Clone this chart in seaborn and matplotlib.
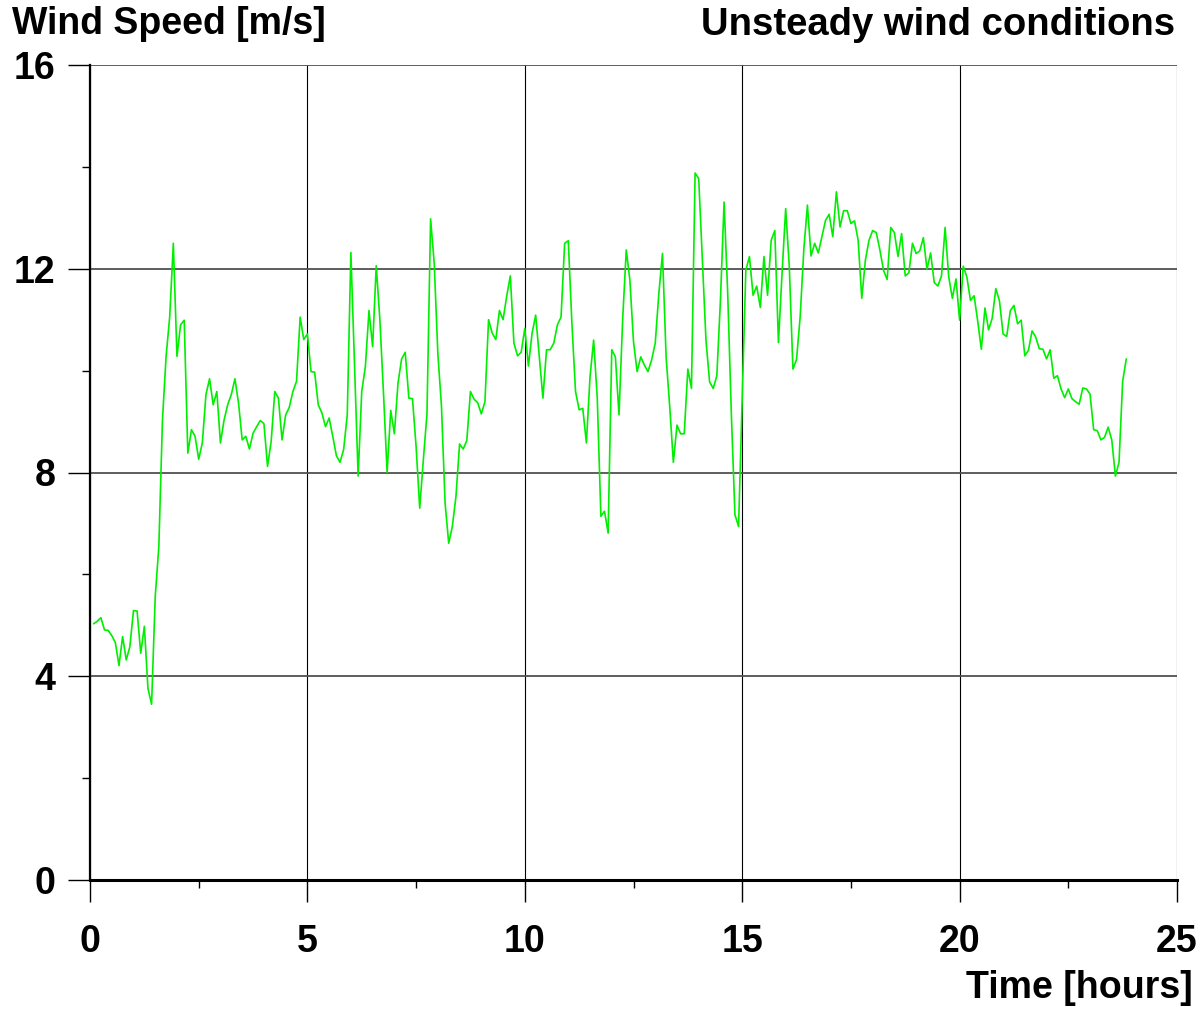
import matplotlib
matplotlib.use("Agg")
import matplotlib.pyplot as plt
import seaborn as sns
import pandas as pd
import numpy as np

# Data: wind speed sampled every 5 minutes
sample_minutes = 5
wind_speed = [
    5.03, 5.08, 5.15, 4.91, 4.90, 4.80, 4.66, 4.21, 4.78, 4.32,
    4.58, 5.29, 5.28, 4.45, 4.98, 3.76, 3.45, 5.56, 6.55, 9.03,
    10.28, 11.06, 12.50, 10.28, 10.90, 10.99, 8.38, 8.84, 8.71, 8.26,
    8.58, 9.53, 9.84, 9.33, 9.59, 8.58, 9.03, 9.33, 9.53, 9.84,
    9.36, 8.64, 8.71, 8.46, 8.77, 8.90, 9.02, 8.96, 8.12, 8.61,
    9.59, 9.46, 8.64, 9.13, 9.28, 9.59, 9.79, 11.05, 10.61, 10.72,
    9.98, 9.97, 9.33, 9.17, 8.90, 9.07, 8.71, 8.33, 8.20, 8.45,
    9.13, 12.32, 10.15, 7.93, 9.59, 10.08, 11.18, 10.47, 12.06, 11.00,
    9.56, 8.00, 9.22, 8.76, 9.75, 10.23, 10.36, 9.46, 9.45, 8.51,
    7.30, 8.25, 9.15, 12.98, 12.11, 10.34, 9.30, 7.40, 6.61, 6.94,
    7.53, 8.56, 8.46, 8.63, 9.59, 9.44, 9.37, 9.15, 9.39, 11.00,
    10.74, 10.61, 11.18, 11.00, 11.46, 11.86, 10.54, 10.29, 10.36, 10.83,
    10.09, 10.73, 11.09, 10.27, 9.46, 10.41, 10.41, 10.54, 10.90, 11.05,
    12.50, 12.55, 10.93, 9.59, 9.23, 9.26, 8.58, 9.88, 10.60, 9.46,
    7.14, 7.24, 6.81, 10.41, 10.27, 9.13, 10.99, 12.37, 11.78, 10.57,
    9.98, 10.27, 10.11, 9.98, 10.21, 10.54, 11.52, 12.30, 10.27, 9.29,
    8.20, 8.93, 8.76, 8.76, 10.03, 9.65, 13.88, 13.77, 12.17, 10.60,
    9.78, 9.65, 9.90, 11.39, 13.31, 11.52, 9.16, 7.17, 6.94, 9.46,
    11.97, 12.24, 11.48, 11.66, 11.24, 12.24, 11.48, 12.56, 12.75, 10.55,
    11.91, 13.18, 12.04, 10.03, 10.22, 11.06, 12.37, 13.25, 12.25, 12.50,
    12.31, 12.63, 12.95, 13.07, 12.63, 13.51, 12.82, 13.14, 13.14, 12.89,
    12.94, 12.56, 11.42, 12.17, 12.56, 12.75, 12.71, 12.37, 11.97, 11.79,
    12.81, 12.71, 12.24, 12.69, 11.86, 11.92, 12.50, 12.30, 12.35, 12.61,
    11.99, 12.31, 11.73, 11.66, 11.86, 12.81, 11.84, 11.42, 11.80, 10.99,
    12.05, 11.84, 11.38, 11.47, 10.97, 10.42, 11.23, 10.80, 11.03, 11.61,
    11.37, 10.72, 10.67, 11.18, 11.28, 10.92, 10.99, 10.29, 10.40, 10.78,
    10.66, 10.43, 10.42, 10.23, 10.41, 9.85, 9.90, 9.64, 9.47, 9.64,
    9.45, 9.39, 9.34, 9.66, 9.64, 9.54, 8.84, 8.82, 8.64, 8.69,
    8.89, 8.64, 7.93, 8.20, 9.79, 10.23,
]
time_hours = np.arange(1, len(wind_speed) + 1) * sample_minutes / 60.0

x_ticks = [0, 5, 10, 15, 20, 25]
y_ticks = [0, 4, 8, 12, 16]

df = pd.DataFrame({"Time": time_hours, "Speed": wind_speed})

sns.set_theme(style="white")
plt.rcParams["font.family"] = ["Liberation Sans", "DejaVu Sans"]
plt.rcParams["text.color"] = "black"

fig = plt.figure(figsize=(12.03, 10.10), dpi=100)
ax = fig.add_axes([90 / 1203, 1 - 880 / 1010, (1177 - 90) / 1203, (880 - 65) / 1010])

sns.lineplot(data=df, x="Time", y="Speed", color="#00ee00", linewidth=1.2, ax=ax)

ax.set_xlim(0, 25)
ax.set_ylim(0, 16)
ax.set_xticks(x_ticks)
ax.set_yticks(y_ticks)
ax.set_xticks(np.arange(0, 25.1, 2.5), minor=True)
ax.set_yticks(np.arange(0, 16.1, 2), minor=True)
ax.set_xlabel("")
ax.set_ylabel("")

for lab in ax.get_xticklabels() + ax.get_yticklabels():
    lab.set_fontsize(27)
    lab.set_fontweight("bold")
    lab.set_color("black")

ax.tick_params(axis="x", which="major", direction="out", length=16, width=1,
               color="black", pad=16, bottom=True)
ax.tick_params(axis="y", which="major", direction="out", length=16, width=1,
               color="black", pad=9, left=True)
ax.tick_params(which="minor", direction="out", length=6, width=1, color="black",
               bottom=True, left=True)

ax.xaxis.grid(True, which="major", color="black", linewidth=0.8)
ax.yaxis.grid(True, which="major", color="#505050", linewidth=1.3)

for side in ["top", "right"]:
    ax.spines[side].set_visible(False)
ax.spines["left"].set_linewidth(1.6)
ax.spines["bottom"].set_linewidth(2.2)
ax.spines["left"].set_color("black")
ax.spines["bottom"].set_color("black")

fig.text(12 / 1203, 1 - 24 / 1010, "Wind Speed [m/s]", fontsize=27,
         fontweight="bold", ha="left", va="center", color="black")
fig.text(1175 / 1203, 1 - 25 / 1010, "Unsteady wind conditions", fontsize=27.5,
         fontweight="bold", ha="right", va="center", color="black")
fig.text(1193 / 1203, 1 - 988 / 1010, "Time [hours]", fontsize=27,
         fontweight="bold", ha="right", va="center", color="black")

fig.savefig("out.png", dpi=100)
